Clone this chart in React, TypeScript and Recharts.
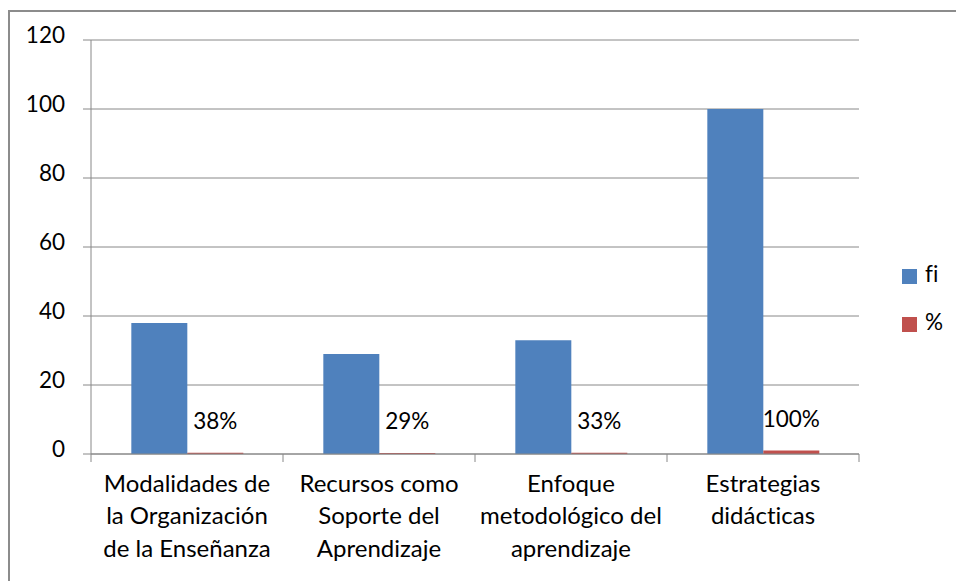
import React from 'react';
import { BarChart, Bar, XAxis, YAxis, CartesianGrid, Legend, LabelList } from 'recharts';

const categories = [
	'Modalidades de la Organización de la Enseñanza',
	'Recursos como Soporte del Aprendizaje',
	'Enfoque metodológico del aprendizaje',
	'Estrategias didácticas',
];
const tickLines = [
	['Modalidades de', 'la Organización', 'de la Enseñanza'],
	['Recursos como', 'Soporte del', 'Aprendizaje'],
	['Enfoque', 'metodológico del', 'aprendizaje'],
	['Estrategias', 'didácticas'],
];
const fiValues = [38, 29, 33, 100];
const pctValues = [0.38, 0.29, 0.33, 1];
const yTicks = [0, 20, 40, 60, 80, 100, 120];

const data = categories.map((name, i) => ({ name, fi: fiValues[i], pct: pctValues[i] }));

const FONT = 'Lato, "Open Sans", sans-serif';
const GRID = '#888888';
const txt = { fontFamily: FONT, fontVariantLigatures: 'none' as const };

const XTick = (props: any) => {
	const { x, y, payload, index } = props;
	const half = payload.offset ?? 0;
	const lines = tickLines[index] ?? [payload.value];
	return (
		<g>
			<line x1={x - half} x2={x - half} y1={y} y2={y + 8} stroke={GRID} />
			{index === categories.length - 1 && <line x1={x + half} x2={x + half} y1={y} y2={y + 8} stroke={GRID} />}
			{lines.map((ln: string, i: number) => (
				<text key={i} x={x} y={y + 28 + i * 32.5} textAnchor="middle" dominantBaseline="central" fontSize={24} style={txt} fill="#000">
					{ln}
				</text>
			))}
		</g>
	);
};

const YTick = (props: any) => {
	const { x, y, payload } = props;
	return (
		<text x={x - 16} y={y - 6} textAnchor="end" dominantBaseline="central" fontSize={22.5} style={txt} fill="#000">
			{payload.value}
		</text>
	);
};

const PctLabel = (props: any) => {
	const { x, y, width, value } = props;
	return (
		<text x={x + width / 2} y={y - 32} textAnchor="middle" dominantBaseline="central" fontSize={22.5} style={txt} fill="#000">
			{`${Math.round(value * 100)}%`}
		</text>
	);
};

const legendItems = [
	{ label: 'fi', color: '#4F81BD' },
	{ label: '%', color: '#C0504D' },
];

const LegendBox = () => (
	<div style={{ ...txt, fontSize: 22.5 }}>
		{legendItems.map((it) => (
			<div key={it.label} style={{ display: 'flex', alignItems: 'flex-end', height: 48 }}>
				<span style={{ width: 15, height: 15, background: it.color, display: 'inline-block', marginRight: 8, marginBottom: 17 }} />
				<span style={{ lineHeight: '26px', marginBottom: 14 }}>{it.label}</span>
			</div>
		))}
	</div>
);

export default function App() {
	return (
		<div
			style={{
				position: 'fixed',
				top: 10,
				left: 8,
				width: 980,
				height: 600,
				borderTop: '2px solid #8c8c8c',
				borderLeft: '2px solid #8c8c8c',
				overflow: 'hidden',
				background: '#fff',
			}}
		>
			<BarChart width={946} height={569} data={data} margin={{ top: 28, right: 37, bottom: 0, left: 0 }} barCategoryGap="21%" barGap={0}>
				<CartesianGrid horizontal vertical={false} stroke={GRID} />
				<XAxis dataKey="name" tick={<XTick />} tickLine={false} tickSize={0} tickMargin={0} axisLine={{ stroke: GRID }} interval={0} height={127} />
				<YAxis domain={[0, 120]} ticks={yTicks} width={81} tickSize={8} tickLine={{ stroke: GRID }} axisLine={{ stroke: GRID }} tick={<YTick />} />
				<Legend content={<LegendBox />} layout="vertical" verticalAlign="top" align="right" wrapperStyle={{ left: 892, top: 241, width: 60 }} />
				<Bar dataKey="fi" name="fi" fill="#4F81BD" isAnimationActive={false} />
				<Bar dataKey="pct" name="%" fill="#C0504D" isAnimationActive={false}>
					<LabelList dataKey="pct" content={<PctLabel />} />
				</Bar>
			</BarChart>
		</div>
	);
}
